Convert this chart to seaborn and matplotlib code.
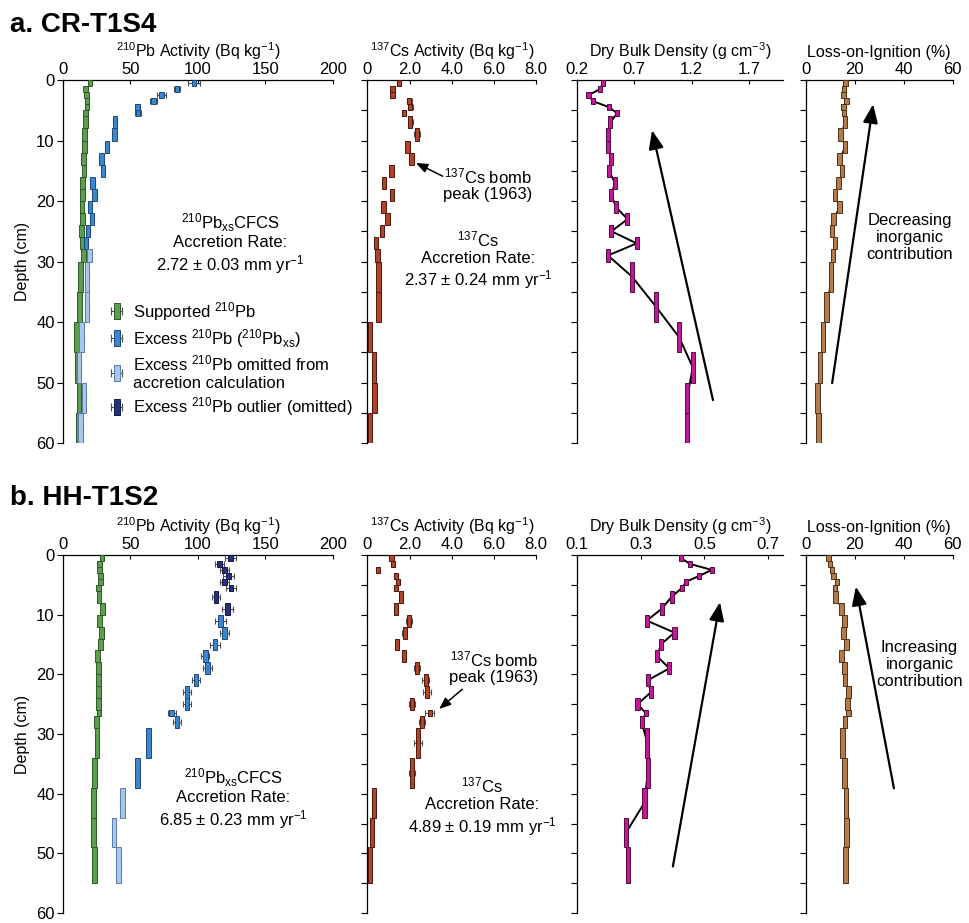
import numpy as np
import matplotlib
matplotlib.use("Agg")
import matplotlib.pyplot as plt
import seaborn as sns
from matplotlib import font_manager
from matplotlib.lines import Line2D
from matplotlib.legend_handler import HandlerLine2D

# ---------------- data ----------------
# core a: CR-T1S4, sample depth intervals (cm)
a_top = [0, 1, 2, 3, 4, 5, 6, 8, 10, 12, 14, 16, 18, 20, 22, 24, 26, 28, 30, 35, 40, 45, 50, 55]
a_bot = [1, 2, 3, 4, 5, 6, 8, 10, 12, 14, 16, 18, 20, 22, 24, 26, 28, 30, 35, 40, 45, 50, 55, 60]
a_pb_sup = [20, 16.5, 17.3, 17.8, 17.8, 16.8, 16.8, 16, 16, 15.3, 15.6, 14.3, 14.6, 14.1, 14.3, 13.6,
            14.0, 15.0, 12.8, 12.4, 9.9, 10.6, 11.9, 11.6]
a_pb_xs = [97, 84.5, 73, 67, 55, 55.5, 38.5, 38, 32.5, 28.5, 29.5, 22, 23.5, 20, 21.5, 18.5,
           17, 19.5, 17.8, 17.8, 13.8, 11.9, 15.6, 13]
a_pb_err = [4.3, 2.5, 3.3, 2.5, 2, 2, 1.5, 1.5, 1.5, 1.5, 1.5, 1.5, 1.5, 1.5, 1.5, 1.5,
            1.5, 1.5, 1.5, 1.5, 1.5, 1.5, 1.5, 1.5]
a_pb_status = ['xs'] * 17 + ['omit'] * 7
a_cs = [1.50, 1.19, 1.19, 1.98, 2.03, 1.74, 2.03, 2.34, 1.90, 2.09, 1.14, 0.79, 1.16, 0.76, 0.95, 0.68,
        0.41, 0.48, 0.52, 0.52, 0.11, 0.32, 0.33, 0.11]
a_cs_err = [0.08, 0.06, 0.06, 0.12, 0.12, 0.1, 0.12, 0.14, 0.12, 0.12, 0.05, 0.05, 0.05, 0.05, 0.05, 0.05,
            0.05, 0.05, 0.05, 0.05, 0.05, 0.05, 0.05, 0.05]
a_dbd = [0.43, 0.40, 0.30, 0.34, 0.48, 0.55, 0.49, 0.47, 0.47, 0.50, 0.48, 0.53, 0.50, 0.54, 0.64, 0.50,
         0.72, 0.47, 0.68, 0.89, 1.09, 1.21, 1.16, 1.16]
a_loi = [16.2, 15.6, 15.3, 16.7, 15.3, 15.6, 15.9, 14.2, 15.9, 13.8, 14.8, 13.4, 11.8, 13.6, 11.2, 10.7,
         11.9, 11.1, 10.3, 8.5, 6.9, 5.8, 4.8, 5.1]

# core b: HH-T1S2
b_top = [0, 1, 2, 3, 4, 5, 6, 8, 10, 12, 14, 16, 18, 20, 22, 24, 26, 27, 29, 34, 39, 44, 49]
b_bot = [1, 2, 3, 4, 5, 6, 8, 10, 12, 14, 16, 18, 20, 22, 24, 26, 27, 29, 34, 39, 44, 49, 55]
b_pb_sup = [29, 27.2, 27.2, 28, 28, 26.5, 26.7, 29.1, 27.2, 28.6, 27.9, 25.7, 26.2, 26.4, 26.2, 26.4,
            26.7, 24.7, 25.2, 23.2, 22.7, 22.5, 23.5]
b_pb_xs = [124, 116, 119.5, 122.5, 119.5, 124.5, 113.5, 122, 116.5, 119.5, 112.5, 105.5, 107, 98.5,
           92, 92, 80.5, 84.5, 63.5, 55.3, 44, 37.8, 41.2]
b_pb_err = [4, 3.5, 3.5, 4, 3.5, 3.5, 3, 4, 4, 3.5, 3.5, 3, 3.5, 3, 3, 3, 3, 3, 1.5, 1.5, 1.5, 1.5, 1.5]
b_pb_status = ['outlier'] * 8 + ['xs'] * 12 + ['omit'] * 3
b_cs = [1.14, 1.22, 0.50, 1.34, 1.45, 1.34, 1.61, 1.37, 1.97, 1.77, 1.42, 1.72, 2.35, 2.76, 2.82, 2.13,
        2.95, 2.60, 2.40, 2.11, 0.32, 0.22, 0.11]
b_cs_err = [0.06, 0.06, 0.04, 0.08, 0.08, 0.08, 0.1, 0.1, 0.15, 0.12, 0.1, 0.1, 0.15, 0.18, 0.18, 0.15,
            0.2, 0.15, 0.18, 0.15, 0.05, 0.05, 0.05]
b_dbd = [0.426, 0.455, 0.523, 0.484, 0.442, 0.43, 0.397, 0.366, 0.319, 0.406, 0.363, 0.352, 0.39, 0.322,
         0.332, 0.29, 0.316, 0.303, 0.321, 0.322, 0.312, 0.254, 0.26]
b_loi = [9.1, 9.8, 10.6, 11.3, 12.7, 11.8, 12.1, 14.5, 15.7, 15.4, 16.5, 14.6, 15.7, 16.0, 17.5, 17.0,
         17.3, 16.0, 15.0, 15.7, 16.4, 16.6, 16.1]

# ---------------- style ----------------
sns.set_style("ticks")
plt.rcParams['font.family'] = ['Liberation Sans', 'DejaVu Sans']
plt.rcParams['mathtext.default'] = 'regular'
for k in ['text.color', 'axes.labelcolor', 'xtick.color', 'ytick.color']:
    plt.rcParams[k] = 'black'
names = {f.name for f in font_manager.fontManager.ttflist}
tick_font = 'Liberation Sans Narrow' if 'Liberation Sans Narrow' in names else 'Liberation Sans'

pb_colors = {'sup': ('#5c9e4f', '#2c5a25'), 'xs': ('#3b87cf', '#1b4a7c'),
             'omit': ('#a9c5ec', '#5a7aa8'), 'outlier': ('#25307f', '#10164a')}
cs_col = ('#b0432a', '#4e160b')
dbd_col = ('#c2189a', '#52083f')
loi_col = ('#b47c4a', '#4f3217')


def boxes(ax, top, bot, vals, w, face, edge, err=None, z=3):
    top = np.asarray(top, float)
    bot = np.asarray(bot, float)
    vals = np.asarray(vals, float)
    if err is not None:
        ax.errorbar(vals, (top + bot) / 2, xerr=err, fmt='none', ecolor='0.3', elinewidth=0.8,
                    capsize=2, capthick=0.8, zorder=z - 1)
    ax.barh(top, w, left=vals - w / 2, height=bot - top, align='edge', color=face,
            edgecolor=edge, linewidth=0.7, zorder=z)


def style_axis(ax, xlim, xticks, xticklabels, xlabel, ylabels):
    ax.set_xlim(*xlim)
    ax.set_ylim(60, 0)
    ax.xaxis.tick_top()
    ax.xaxis.set_label_position('top')
    ax.set_xticks(xticks)
    ax.set_xticklabels(xticklabels)
    ax.set_xlabel(xlabel, fontsize=11.5, labelpad=4)
    for s in ['right', 'bottom']:
        ax.spines[s].set_visible(False)
    for s in ['top', 'left']:
        ax.spines[s].set_color('black')
        ax.spines[s].set_linewidth(0.9)
    ax.tick_params(axis='x', direction='in', length=3, width=0.8, pad=2, labelsize=12, colors='black')
    ax.tick_params(axis='y', direction='out', length=4, width=0.8, pad=2, labelsize=12, colors='black')
    if ylabels:
        ax.set_yticks(np.arange(0, 61, 10))
        ax.set_ylabel('Depth (cm)', fontsize=11.5, labelpad=4)
    else:
        ax.set_yticks(np.arange(0, 61, 5))
        ax.set_yticklabels([])
        ax.set_ylabel('')
    for lab in ax.get_xticklabels() + ax.get_yticklabels():
        lab.set_family(tick_font)


def arrow(ax, tail, head, lw=1.6, ms=16):
    ax.annotate('', xy=head, xytext=tail,
                arrowprops=dict(arrowstyle='-|>,head_length=0.7,head_width=0.28', color='k',
                                lw=lw, mutation_scale=ms, shrinkA=0, shrinkB=0))


fig = plt.figure(figsize=(9.69, 9.23), dpi=100)

rows = [
    dict(bottom=0.5200, height=0.3933, top=a_top, bot=a_bot, sup=a_pb_sup, xs=a_pb_xs, err=a_pb_err,
         status=a_pb_status, cs=a_cs, cs_err=a_cs_err, dbd=a_dbd, loi=a_loi,
         dbd_lim=(0.2, 1.997), dbd_ticks=[0.2, 0.7, 1.2, 1.7], dbd_w=0.035,
         title='a. CR-T1S4', title_y=0.9653),
    dict(bottom=0.0108, height=0.3879, top=b_top, bot=b_bot, sup=b_pb_sup, xs=b_pb_xs, err=b_pb_err,
         status=b_pb_status, cs=b_cs, cs_err=b_cs_err, dbd=b_dbd, loi=b_loi,
         dbd_lim=(0.1, 0.747), dbd_ticks=[0.1, 0.3, 0.5, 0.7], dbd_w=0.013,
         title='b. HH-T1S2', title_y=0.4529),
]

all_axes = []
for r in rows:
    ax_pb = fig.add_axes([0.0650, r['bottom'], 0.2786, r['height']])
    ax_cs = fig.add_axes([0.3792, r['bottom'], 0.1740, r['height']])
    ax_db = fig.add_axes([0.5955, r['bottom'], 0.2126, r['height']])
    ax_lo = fig.add_axes([0.8318, r['bottom'], 0.1512, r['height']])
    all_axes.append((ax_pb, ax_cs, ax_db, ax_lo))

    top = np.asarray(r['top'], float)
    bot = np.asarray(r['bot'], float)
    mid = (top + bot) / 2

    # 210Pb
    boxes(ax_pb, top, bot, r['sup'], 3.4, *pb_colors['sup'], z=3)
    status = np.array(r['status'])
    xs = np.asarray(r['xs'], float)
    err = np.asarray(r['err'], float)
    for st in ['xs', 'omit', 'outlier']:
        m = status == st
        if m.any():
            boxes(ax_pb, top[m], bot[m], xs[m], 3.4, *pb_colors[st], err=err[m], z=5)
    style_axis(ax_pb, (0, 200), [0, 50, 100, 150, 200], ['0', '50', '100', '150', '200'],
               r'$^{210}$Pb Activity (Bq kg$^{-1}$)', True)

    # 137Cs
    boxes(ax_cs, top, bot, r['cs'], 0.2, *cs_col, err=r['cs_err'], z=3)
    style_axis(ax_cs, (0, 8), [0, 2, 4, 6, 8], ['0', '2.0', '4.0', '6.0', '8.0'],
               r'$^{137}$Cs Activity (Bq kg$^{-1}$)', False)

    # Dry bulk density
    sns.lineplot(x=np.asarray(r['dbd']), y=mid, sort=False, estimator=None, color='k', lw=1.4,
                 ax=ax_db, zorder=2)
    boxes(ax_db, top, bot, r['dbd'], r['dbd_w'], *dbd_col, z=3)
    style_axis(ax_db, r['dbd_lim'], r['dbd_ticks'], [f'{t:.1f}' for t in r['dbd_ticks']],
               r'Dry Bulk Density (g cm$^{-3}$)', False)

    # Loss on ignition
    sns.lineplot(x=np.asarray(r['loi']), y=mid, sort=False, estimator=None, color='k', lw=0.8,
                 ax=ax_lo, zorder=2)
    boxes(ax_lo, top, bot, r['loi'], 1.9, *loi_col, z=3)
    style_axis(ax_lo, (0, 60), [0, 20, 40, 60], ['0', '20', '40', '60'], 'Loss-on-Ignition (%)', False)

    fig.text(0.0105, r['title_y'], r['title'], fontsize=20, fontweight='bold', va='baseline', ha='left')

(a_pb, a_cs_ax, a_db, a_lo), (b_pb, b_cs_ax, b_db, b_lo) = all_axes

# ---------------- annotations: core a ----------------
a_pb.text(124, 27, '$^{210}$Pb$_{xs}$CFCS\nAccretion Rate:\n2.72 ± 0.03 mm yr$^{-1}$',
          ha='center', va='center', fontsize=12, linespacing=1.15)
a_cs_ax.text(5.7, 17.2, '$^{137}$Cs bomb\npeak (1963)', ha='center', va='center', fontsize=12,
             linespacing=1.1)
arrow(a_cs_ax, (3.57, 15.9), (2.3, 13.7), lw=1.1, ms=10)
a_cs_ax.text(5.25, 29.8, '$^{137}$Cs\nAccretion Rate:\n2.37 ± 0.24 mm yr$^{-1}$',
             ha='center', va='center', fontsize=12, linespacing=1.15)
arrow(a_db, (1.386, 52.9), (0.854, 8.3))
arrow(a_lo, (10.7, 50.1), (27.5, 4.0))
a_lo.text(42.6, 26, 'Decreasing\ninorganic\ncontribution', ha='center', va='center', fontsize=12,
          linespacing=1.15)

# legend
def legend_handle(face, edge):
    caps = Line2D([], [], color='0.3', lw=0.8, marker='|', markersize=6, markeredgewidth=0.8)
    box = Line2D([], [], ls='none', marker=[(-0.45, -1), (0.45, -1), (0.45, 1), (-0.45, 1), (-0.45, -1)],
                 markersize=11, markerfacecolor=face, markeredgecolor=edge, markeredgewidth=0.7)
    return caps, box

handles, hmap = [], {}
for key in ['sup', 'xs', 'omit', 'outlier']:
    caps, box = legend_handle(*pb_colors[key])
    hmap[caps] = HandlerLine2D(numpoints=2)
    hmap[box] = HandlerLine2D(numpoints=1)
    handles.append((caps, box))
labels = [r'Supported $^{210}$Pb', r'Excess $^{210}$Pb ($^{210}$Pb$_{xs}$)',
          'Excess $^{210}$Pb omitted from\naccretion calculation', r'Excess $^{210}$Pb outlier (omitted)']
a_pb.legend(handles, labels, handler_map=hmap, loc='upper left', bbox_to_anchor=(0.16, 0.395),
            frameon=False, fontsize=12, handlelength=1.25, handletextpad=0.35, labelspacing=0.25,
            borderpad=0, borderaxespad=0)

# ---------------- annotations: core b ----------------
b_pb.text(126, 40.8, '$^{210}$Pb$_{xs}$CFCS\nAccretion Rate:\n6.85 ± 0.23 mm yr$^{-1}$',
          ha='center', va='center', fontsize=12, linespacing=1.15)
b_cs_ax.text(6.0, 18.8, '$^{137}$Cs bomb\npeak (1963)', ha='center', va='center', fontsize=12,
             linespacing=1.1)
arrow(b_cs_ax, (4.5, 22.5), (3.4, 25.8), lw=1.1, ms=10)
b_cs_ax.text(5.45, 42.2, '$^{137}$Cs\nAccretion Rate:\n4.89 ± 0.19 mm yr$^{-1}$',
             ha='center', va='center', fontsize=12, linespacing=1.15)
arrow(b_db, (0.401, 52.2), (0.549, 7.9))
arrow(b_lo, (36, 39.1), (20.4, 5.3))
b_lo.text(46.5, 18.4, 'Increasing\ninorganic\ncontribution', ha='center', va='center', fontsize=12,
          linespacing=1.15)

fig.savefig('out.png', dpi=100)
